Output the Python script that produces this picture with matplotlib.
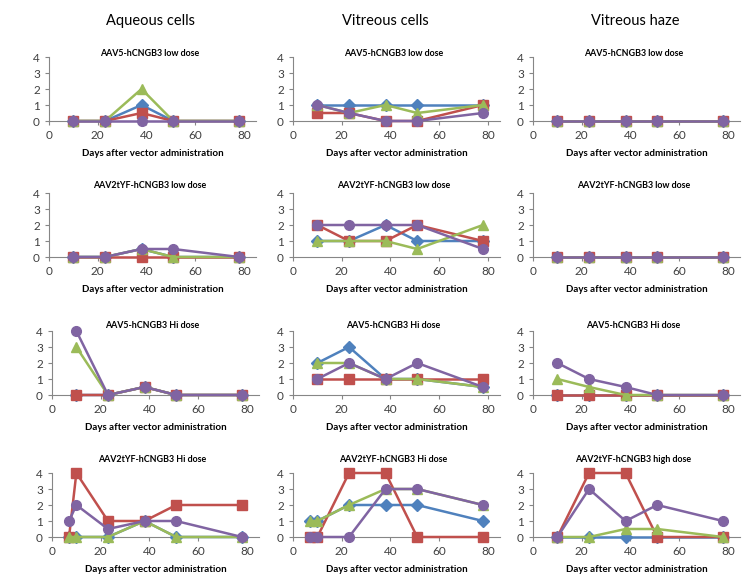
import matplotlib

matplotlib.use("Agg")
import matplotlib.pyplot as plt

plt.rcParams["font.family"] = ["Lato", "DejaVu Sans"]

BLUE, RED, GREEN, PURPLE = "#4F81BD", "#C0504D", "#9BBB59", "#8064A2"
AXIS_GREY = "#868686"

columns = ["Aqueous cells", "Vitreous cells", "Vitreous haze"]
row_titles = [
    ["AAV5-hCNGB3 low dose"] * 3,
    ["AAV2tYF-hCNGB3 low dose"] * 3,
    ["AAV5-hCNGB3 Hi dose"] * 3,
    ["AAV2tYF-hCNGB3 Hi dose", "AAV2tYF-hCNGB3 Hi dose", "AAV2tYF-hCNGB3 high dose"],
]
xlabel = "Days after vector administration"

days = [10, 23, 38, 51, 78]
days_hi = [7, 10, 23, 38, 51, 78]

# scores per panel: (days, blue, red, green, purple)
aq_aav5_low = (days, [0, 0, 1, 0, 0], [0, 0, 0.5, 0, 0], [0, 0, 2, 0, 0], [0, 0, 0, 0, 0])
vc_aav5_low = (days, [1, 1, 1, 1, 1], [0.5, 0.5, 0, 0, 1], [1, 0.5, 1, 0.5, 1], [1, 0.5, 0, 0, 0.5])
vh_aav5_low = (days, [0, 0, 0, 0, 0], [0, 0, 0, 0, 0], [0, 0, 0, 0, 0], [0, 0, 0, 0, 0])

aq_tyf_low = (days, [0, 0, 0.5, 0, 0], [0, 0, 0, 0, 0], [0, 0, 0.5, 0, 0], [0, 0, 0.5, 0.5, 0])
vc_tyf_low = (days, [1, 1, 2, 1, 1], [2, 1, 1, 2, 1], [1, 1, 1, 0.5, 2], [2, 2, 2, 2, 0.5])
vh_tyf_low = (days, [0, 0, 0, 0, 0], [0, 0, 0, 0, 0], [0, 0, 0, 0, 0], [0, 0, 0, 0, 0])

aq_aav5_hi = (days, [0, 0, 0.5, 0, 0], [0, 0, 0.5, 0, 0], [3, 0, 0.5, 0, 0], [4, 0, 0.5, 0, 0])
vc_aav5_hi = (days, [2, 3, 1, 1, 0.5], [1, 1, 1, 1, 1], [2, 2, 1, 1, 0.5], [1, 2, 1, 2, 0.5])
vh_aav5_hi = (days, [0, 0, 0, 0, 0], [0, 0, 0, 0, 0], [1, 0.5, 0, 0, 0], [2, 1, 0.5, 0, 0])

aq_tyf_hi = (days_hi, [0, 0, 0, 1, 0, 0], [0, 4, 1, 1, 2, 2], [0, 0, 0, 1, 0, 0], [1, 2, 0.5, 1, 1, 0])
vc_tyf_hi = (days_hi, [1, 1, 2, 2, 2, 1], [0, 0, 4, 4, 0, 0], [1, 1, 2, 3, 3, 2], [0, 0, 0, 3, 3, 2])
vh_tyf_hi = (days, [0, 0, 0, 0, 0], [0, 4, 4, 0, 0], [0, 0, 0.5, 0.5, 0], [0, 3, 1, 2, 1])

panels = [
    [aq_aav5_low, vc_aav5_low, vh_aav5_low],
    [aq_tyf_low, vc_tyf_low, vh_tyf_low],
    [aq_aav5_hi, vc_aav5_hi, vh_aav5_hi],
    [aq_tyf_hi, vc_tyf_hi, vh_tyf_hi],
]

W, H = 755, 575
col_left = [[49, 293, 533], [49, 293, 533], [52, 293, 533], [52, 293, 533]]
col_title_x = [150, 385, 635]
row_top = [57, 193, 331, 473]
row_title_y = [53, 186, 326, 460]
ax_w, ax_h = 207, 64

styles = [(BLUE, "D", 6), (RED, "s", 7), (GREEN, "^", 7.5), (PURPLE, "o", 7)]

fig = plt.figure(figsize=(W / 100, H / 100), dpi=100)

for c, name in enumerate(columns):
    fig.text(col_title_x[c] / W, 1 - 21 / H, name, ha="center", va="center", fontsize=10.5, color="black")

for r in range(4):
    for c in range(3):
        left = col_left[r][c]
        ax = fig.add_axes([left / W, 1 - (row_top[r] + ax_h) / H, ax_w / W, ax_h / H])
        x = panels[r][c][0]
        for (color, marker, ms), y in zip(styles, panels[r][c][1:]):
            ax.plot(x, y, color=color, lw=1.8, marker=marker, ms=ms, clip_on=False, zorder=3)
        ax.set_xlim(0, 85)
        ax.set_ylim(0, 4)
        ax.set_xticks([0, 20, 40, 60, 80])
        ax.set_yticks([0, 1, 2, 3, 4])
        for side in ("top", "right"):
            ax.spines[side].set_visible(False)
        for side in ("left", "bottom"):
            ax.spines[side].set_color(AXIS_GREY)
            ax.spines[side].set_linewidth(0.8)
        ax.tick_params(colors=AXIS_GREY, labelcolor="#404040", labelsize=8.5, length=3, width=0.8)
        fig.text((left + ax_w / 2 - 3) / W, 1 - row_title_y[r] / H, row_titles[r][c],
                 ha="center", va="center", fontsize=6.4, fontweight="bold")
        ax.set_xlabel(xlabel, fontsize=7, fontweight="bold", labelpad=6)

fig.savefig("out.png", dpi=100)
